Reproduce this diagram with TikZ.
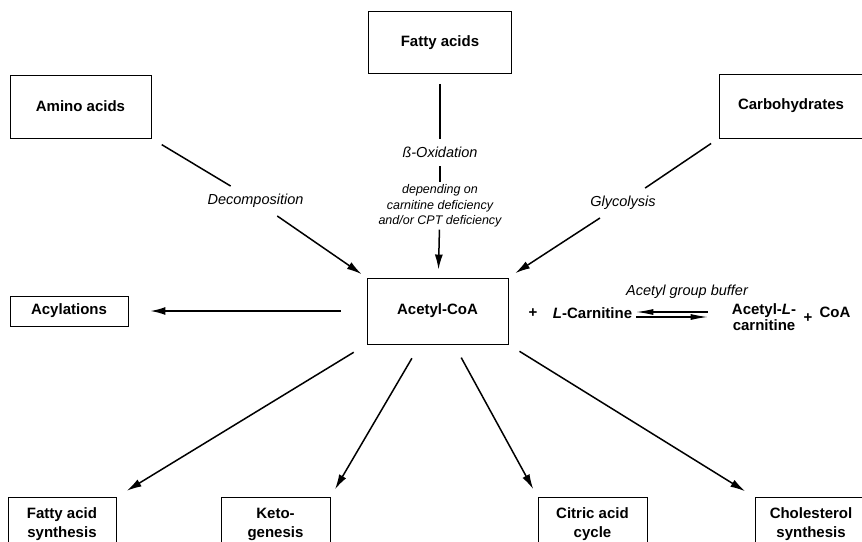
\documentclass[tikz,border=0pt]{standalone}
\usepackage{fontspec}
\setmainfont{Liberation Sans}
\usetikzlibrary{arrows.meta}

\tikzset{
  box/.style={draw, line width=0.9pt, font=\fontsize{15}{19}\selectfont\bfseries, align=center, inner sep=0pt},
  chem/.style={font=\fontsize{15}{16}\selectfont\bfseries, align=center, inner sep=2pt},
  lbl/.style={font=\fontsize{14.5}{16}\selectfont\itshape, inner xsep=2pt, inner ysep=8pt},
  note/.style={font=\fontsize{12.5}{15.5}\selectfont\itshape, align=center, inner sep=2pt},
  link/.style={line width=1.5pt},
  arr/.style={line width=1.5pt, -{Latex[length=15pt,width=8pt]}},
  eqarr/.style={line width=1.1pt, -{Latex[length=17pt,width=6pt]}},
}

\begin{document}
\begin{tikzpicture}[x=1pt,y=-1pt]
\useasboundingbox (0,0) rectangle (862,541);
\clip (0,0) rectangle (862,541);

\def\bw{109pt}
\def\bh{54pt}

\node[box, minimum width=143pt, minimum height=62pt] (fatty) at (440,42.5) {Fatty acids};
\node[box, minimum width=141pt, minimum height=63pt] (amino) at (80.5,106.5) {Amino acids};
\node[box, minimum width=144pt, minimum height=64pt] (carbo) at (791,106) {Carbohydrates};
\node[box, minimum width=141pt, minimum height=66pt] (acetyl) at (437.5,311) {Acetyl-CoA};
\node[box, minimum width=118pt, minimum height=30pt] (acyl) at (69,311) {Acylations};

\node[box, minimum width=108pt, minimum height=\bh] (fas) at (62,524.5) {Fatty acid\\synthesis};
\node[box, minimum width=\bw, minimum height=\bh] (keto) at (275.5,524.5) {Keto-\\genesis};
\node[box, minimum width=\bw, minimum height=\bh] (citric) at (592.5,524.5) {Citric acid\\cycle};
\node[box, minimum width=112pt, minimum height=\bh] (chol) at (811,524.5) {Cholesterol\\synthesis};

\node[lbl] (beta) at (440,152.5) {ß-Oxidation};
\node[note] (dep) at (440,206) {depending on\\carnitine deficiency\\and/or CPT deficiency};
\node[lbl] (decomp) at (255.5,201) {Decomposition};
\node[lbl] (glyco) at (623,203) {Glycolysis};

\draw[link, shorten <=10pt] (fatty) -- (beta);
\draw[link] (beta) -- (dep);
\draw[arr, shorten >=8pt] (dep) -- (acetyl);
\draw[link, shorten <=12pt] (amino.south east) -- (decomp);
\draw[arr, shorten >=6pt] (decomp) -- (acetyl.north west);
\draw[link, shorten <=9pt] (carbo.south west) -- (glyco);
\draw[arr, shorten >=8pt] (glyco) -- (acetyl.north east);

\draw[arr, shorten <=26pt, shorten >=22pt] (acetyl.west) -- (acyl.east);
\draw[arr, shorten <=15pt, shorten >=12pt] (acetyl.south west) -- (fas.north east);
\draw[arr, shorten <=16pt, shorten >=9pt] ([xshift=-17.5pt]acetyl.south) -- (keto.north east);
\draw[arr, shorten <=15pt, shorten >=9pt] ([xshift=16.5pt]acetyl.south) -- (citric.north west);
\draw[arr, shorten <=13pt, shorten >=11pt] (acetyl.south east) -- (chol.north west);

\node[chem] (plusa) at (533,313) {+};
\node[chem] (lcarn) at (592.5,313) {\textit{L}-Carnitine};
\node[chem] (acarn) at (764,317.5) {Acetyl-\textit{L}-\\carnitine};
\node[chem] (plusb) at (808,318) {+};
\node[chem] (coa) at (835,312) {CoA};
\node[lbl, inner sep=1pt] (buffer) at (687,292) {Acetyl group buffer};

\draw[eqarr, transform canvas={yshift=1pt}, shorten <=22pt, shorten >=2pt] (acarn.west |- lcarn.east) -- (lcarn.east);
\draw[eqarr, transform canvas={yshift=-4pt}, shorten <=2pt, shorten >=22pt] (lcarn.east) -- (acarn.west |- lcarn.east);

\end{tikzpicture}
\end{document}
